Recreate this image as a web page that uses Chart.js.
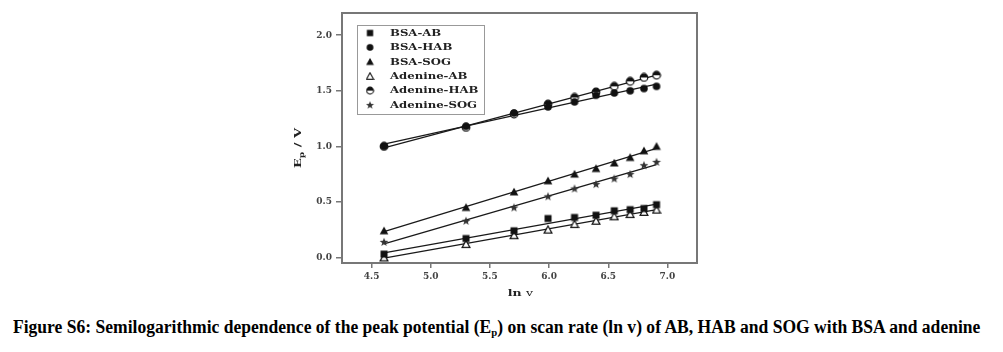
<!DOCTYPE html>
<html>
<head>
<meta charset="utf-8">
<script src="https://cdn.jsdelivr.net/npm/chart.js@4.4.1/dist/chart.umd.min.js"></script>
<style>
    body { margin: 0; background: #fff; width: 1003px; height: 352px; overflow: hidden; position: relative; }
    #wrap { position: absolute; left: 0; top: 0; width: 1003px; height: 300px; }
    #caption {
        position: absolute; left: 13px; top: 317px; white-space: nowrap;
        font-family: "Liberation Serif", serif; font-weight: bold; font-size: 18px; line-height: 20px;
        color: #000; transform-origin: left top;
    }
    #caption sub { font-size: 11px; vertical-align: -3px; line-height: 0; }
</style>
</head>
<body>
<div id="wrap"><canvas id="chart-ep" width="1003" height="300"></canvas></div>
<div id="caption">Figure S6: Semilogarithmic dependence of the peak potential (E<sub>p</sub>) on scan rate (ln v) of AB, HAB and SOG with BSA and adenine</div>
<script>
// ln v (scan rates 100..1000)
const lnV = [4.605, 5.298, 5.704, 5.991, 6.215, 6.397, 6.551, 6.685, 6.802, 6.908];

const bsaAB = [0.03, 0.17, 0.24, 0.35, 0.36, 0.38, 0.42, 0.43, 0.44, 0.475];
const bsaHAB = [1.0, 1.18, 1.3, 1.355, 1.4, 1.46, 1.48, 1.5, 1.52, 1.54];
const bsaSOG = [0.24, 0.45, 0.59, 0.69, 0.75, 0.8, 0.85, 0.9, 0.96, 1.0];
const adenineAB = [0.0, 0.12, 0.2, 0.25, 0.3, 0.33, 0.37, 0.39, 0.41, 0.43];
const adenineHAB = [1.0, 1.17, 1.29, 1.38, 1.44, 1.49, 1.54, 1.585, 1.62, 1.64];
const adenineSOG = [0.14, 0.33, 0.45, 0.55, 0.62, 0.66, 0.71, 0.75, 0.83, 0.86];

const seriesNames = ["BSA-AB", "BSA-HAB", "BSA-SOG", "Adenine-AB", "Adenine-HAB", "Adenine-SOG"];
const xTicks = [4.5, 5.0, 5.5, 6.0, 6.5, 7.0];
const yTicks = [0.0, 0.5, 1.0, 1.5, 2.0];

// marker images
function marker(kind) {
    const c = document.createElement("canvas");
    c.width = 10; c.height = 10;
    const g = c.getContext("2d");
    g.fillStyle = "#111";
    g.strokeStyle = "#111";
    g.lineWidth = 1.2;
    if (kind === "square") {
        g.fillRect(1.5, 1.5, 7, 7);
    } else if (kind === "circle") {
        g.beginPath(); g.arc(5, 5, 3.8, 0, Math.PI * 2); g.fill();
    } else if (kind === "tri") {
        g.beginPath(); g.moveTo(5, 0.8); g.lineTo(9.3, 8.6); g.lineTo(0.7, 8.6); g.closePath(); g.fill();
    } else if (kind === "opentri") {
        g.fillStyle = "#fff";
        g.beginPath(); g.moveTo(5, 1.2); g.lineTo(8.9, 8.4); g.lineTo(1.1, 8.4); g.closePath(); g.fill(); g.stroke();
    } else if (kind === "half") {
        g.fillStyle = "#fff";
        g.beginPath(); g.arc(5, 5, 3.8, 0, Math.PI * 2); g.fill();
        g.fillStyle = "#111";
        g.beginPath(); g.arc(5, 5, 3.8, Math.PI, Math.PI * 2); g.closePath(); g.fill();
        g.beginPath(); g.arc(5, 5, 3.8, 0, Math.PI * 2); g.stroke();
    } else if (kind === "star") {
        g.fillStyle = "#333";
        g.beginPath();
        for (let i = 0; i < 10; i++) {
            const r = i % 2 === 0 ? 4.6 : 1.9;
            const a = -Math.PI / 2 + i * Math.PI / 5;
            const px = 5 + r * Math.cos(a), py = 5.3 + r * Math.sin(a);
            if (i === 0) g.moveTo(px, py); else g.lineTo(px, py);
        }
        g.closePath(); g.fill();
    }
    return c;
}

const markers = [marker("square"), marker("circle"), marker("tri"), marker("opentri"), marker("half"), marker("star")];
const allSeries = [bsaAB, bsaHAB, bsaSOG, adenineAB, adenineHAB, adenineSOG];

function linFit(xs, ys) {
    const n = xs.length;
    const mx = xs.reduce((a, b) => a + b, 0) / n;
    const my = ys.reduce((a, b) => a + b, 0) / n;
    let sxy = 0, sxx = 0;
    for (let i = 0; i < n; i++) { sxy += (xs[i] - mx) * (ys[i] - my); sxx += (xs[i] - mx) ** 2; }
    const b = sxy / sxx;
    return (x) => my + b * (x - mx);
}

const datasets = [];
allSeries.forEach((ys, i) => {
    datasets.push({
        type: "scatter",
        label: seriesNames[i],
        data: lnV.map((x, k) => ({ x: x, y: ys[k] })),
        pointStyle: markers[i],
        showLine: false,
        order: 0,
    });
});
allSeries.forEach((ys) => {
    const f = linFit(lnV, ys);
    const x0 = lnV[0], x1 = lnV[lnV.length - 1];
    datasets.push({
        type: "line",
        label: "",
        data: [{ x: x0, y: f(x0) }, { x: x1, y: f(x1) }],
        borderColor: "#1a1a1a",
        borderWidth: 1.3,
        pointRadius: 0,
        order: 1,
    });
});

function stretchText(ctx, text, x, y, sx) {
    ctx.save();
    ctx.translate(x, y);
    ctx.scale(sx, 1);
    ctx.fillText(text, 0, 0);
    ctx.restore();
    return ctx.measureText(text).width * sx;
}

const framePlugin = {
    id: "frameAndLegend",
    afterDraw(chart) {
        const ctx = chart.ctx;
        const a = chart.chartArea;
        ctx.save();
        // plot frame
        ctx.strokeStyle = "#777";
        ctx.lineWidth = 2;
        ctx.strokeRect(a.left, a.top, a.right - a.left, a.bottom - a.top);

        // legend box
        const lx = a.left + 15, ly = a.top + 12;
        ctx.strokeStyle = "#999";
        ctx.lineWidth = 1;
        ctx.strokeRect(lx + 0.5, ly + 0.5, 127, 89);
        ctx.fillStyle = "#222";
        ctx.font = "bold 9px 'DejaVu Serif'";
        ctx.textBaseline = "middle";
        ctx.textAlign = "left";
        seriesNames.forEach((name, i) => {
            const yy = ly + 8.5 + i * 14.4;
            const m = markers[i];
            ctx.drawImage(m, lx + 13 - 4.5, yy - 5, 9, 9);
            stretchText(ctx, name, lx + 33, yy, 1.3);
        });

        // x title: ln v
        ctx.fillStyle = "#222";
        ctx.textBaseline = "alphabetic";
        ctx.font = "bold 10px 'DejaVu Serif'";
        let w1 = ctx.measureText("ln ").width * 1.25;
        ctx.font = "10px 'DejaVu Serif'";
        let w2 = ctx.measureText("v").width * 1.25;
        let sx0 = (a.left + a.right) / 2 + 1 - (w1 + w2) / 2;
        ctx.font = "bold 10px 'DejaVu Serif'";
        stretchText(ctx, "ln ", sx0, 296, 1.25);
        ctx.font = "10px 'DejaVu Serif'";
        stretchText(ctx, "v", sx0 + w1, 296, 1.25);

        // y title: Ep / V (rotated)
        ctx.save();
        ctx.translate(301, 148);
        ctx.rotate(-Math.PI / 2);
        const s = 1.3;
        ctx.font = "bold 10px 'DejaVu Serif'";
        const wE = ctx.measureText("E").width * s;
        const wRest = ctx.measureText(" / V").width * s;
        ctx.font = "bold 7px 'DejaVu Serif'";
        const wp = ctx.measureText("p").width * s;
        const total = wE + wp + wRest;
        let cx = -total / 2;
        ctx.font = "bold 10px 'DejaVu Serif'";
        stretchText(ctx, "E", cx, 0, s);
        ctx.font = "bold 7px 'DejaVu Serif'";
        stretchText(ctx, "p", cx + wE, 3, s);
        ctx.font = "bold 10px 'DejaVu Serif'";
        stretchText(ctx, " / V", cx + wE + wp, 0, s);
        ctx.restore();

        ctx.restore();
    },
};

new Chart(document.getElementById("chart-ep"), {
    data: { datasets: datasets },
    options: {
        responsive: false,
        animation: false,
        devicePixelRatio: 1,
        layout: { padding: { left: 282, right: 306, top: 13, bottom: 0 } },
        plugins: {
            legend: { display: false },
            tooltip: { enabled: false },
        },
        scales: {
            x: {
                type: "linear",
                min: 4.25,
                max: 7.25,
                afterBuildTicks: (s) => { s.ticks = xTicks.map((v) => ({ value: v })); },
                afterFit: (s) => { s.height = 37; },
                border: { display: false },
                grid: { drawOnChartArea: false, drawTicks: true, tickLength: 5, color: "#777", lineWidth: 1.5 },
                ticks: {
                    padding: 3,
                    color: "#444",
                    font: { family: "DejaVu Serif", weight: "bold", size: 9 },
                    callback: (v) => Number(v).toFixed(1),
                },
            },
            y: {
                type: "linear",
                min: -0.05,
                max: 2.2,
                afterBuildTicks: (s) => { s.ticks = yTicks.map((v) => ({ value: v })); },
                afterFit: (s) => { s.width = 60; },
                border: { display: false },
                grid: { drawOnChartArea: false, drawTicks: true, tickLength: 6, color: "#777", lineWidth: 1.5 },
                ticks: {
                    padding: 4,
                    color: "#444",
                    font: { family: "DejaVu Serif", weight: "bold", size: 9 },
                    callback: (v) => Number(v).toFixed(1),
                },
            },
        },
    },
    plugins: [framePlugin],
});

// fit caption width to the reference
const cap = document.getElementById("caption");
const cw = cap.scrollWidth;
cap.style.transform = "scaleX(" + (967 / cw) + ")";
</script>
</body>
</html>
